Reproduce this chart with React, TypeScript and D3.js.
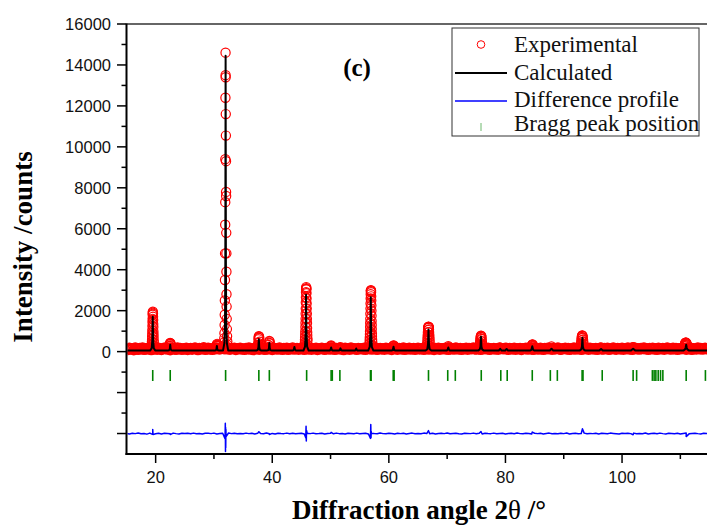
import React from "react";
import * as d3 from "d3";

// ---------- data ----------
const xTickValues = [20, 30, 40, 50, 60, 70, 80, 90, 100, 110];
const xTickLabels = ["20", "", "40", "", "60", "", "80", "", "100", ""];
const yTickValues = [-4000, -3000, -2000, -1000, 0, 1000, 2000, 3000, 4000, 5000, 6000, 7000, 8000, 9000, 10000, 11000, 12000, 13000, 14000, 15000, 16000];
const yTickLabels = ["", "", "", "", "0", "", "2000", "", "4000", "", "6000", "", "8000", "", "10000", "", "12000", "", "14000", "", "16000"];

const legendLabels = ["Experimental", "Calculated", "Difference profile", "Bragg peak position"];
const panelLabel = "(c)";

// experimental background points on the instrument grid (start 15°, step 0.25°)
const expGridStart = 15;
const expGridStep = 0.25;
const expGridCounts = [
  140,95,170,120,150,85,185,130,105,160,125,190,100,145,115,175,135,90,165,120,
  155,110,180,130,95,160,140,200,115,150,85,170,125,145,105,190,135,160,100,150,
  120,175,95,140,165,110,150,185,130,90,160,120,145,195,105,135,170,115,150,100,
  165,130,180,145,120,175,150,135,160,125,185,110,150,140,170,95,155,130,180,120,
  140,100,165,125,185,115,150,90,170,135,155,110,190,130,145,105,175,120,160,140,
  95,170,130,150,115,185,140,105,160,125,175,100,150,135,190,115,145,165,110,155,
  130,175,100,160,140,120,185,110,150,135,170,95,155,125,180,140,105,165,130,150,
  115,180,140,100,160,130,175,120,150,90,170,135,145,110,185,125,155,140,100,165,
  135,150,120,180,105,160,140,175,115,150,130,190,100,145,165,120,155,110,170,140,
  125,160,95,150,180,130,110,165,140,120,185,105,155,135,170,115,145,160,100,150,
  175,120,140,160,105,185,130,150,115,170,140,95,160,125,180,110,150,135,165,120,
  145,100,170,130,155,115,185,140,120,165,105,150,135,175,110,160,125,145,190,130,
  115,160,140,105,175,125,150,135,180,100,155,130,165,120,145,110,185,140,150,125,
  170,135,100,160,145,120,180,110,155,130,165,95,150,140,175,115,160,125,145,105,
  185,130,150,115,170,140,100,160,125,180,135,145,110,165,120,155,190,130,105,150,
  140,175,120,160,100,145,130,185,115,155,135,170,105,150,125,165,140,110,180,130,
  155,120,165,100,145,180,130,115,160,140,175,105,150,125,185,135,110,165,145,120,
  170,110,150,135,185,120,160,100,145,175,130,155,115,165,140,190,125,150,105,160,
  135,170,120,155,100,180,140,125,165,110,150,185,130,145,115,170,135,160,105,150,
  125,165,140,180,110,155,130,175,100,150,140,120,185,135,160,115,145,170,125,155,
  140,
];

// experimental points across the reflections
const expPeakTheta = [
  19.30,19.33,19.35,19.37,19.39,19.40,19.42,19.43,19.45,19.46,19.48,19.49,19.51,19.52,19.54,19.55,19.57,19.58,19.60,19.61,19.63,19.64,19.66,19.67,19.71,
  22.35,22.40,22.45,22.48,22.52,22.56,22.60,22.67,
  30.35,30.42,30.48,30.55,30.60,30.65,
  31.70,31.74,31.77,31.80,31.83,31.85,31.87,31.89,31.91,31.93,31.94,31.95,31.97,31.99,32.00,32.01,32.03,32.05,32.07,32.08,32.09,32.11,32.13,32.14,32.15,32.17,32.19,32.22,32.25,32.29,32.34,
  37.50,37.55,37.60,37.64,37.67,37.70,37.74,37.78,37.82,37.86,37.90,
  39.35,39.40,39.45,39.50,39.54,39.58,39.65,
  45.55,45.58,45.60,45.62,45.64,45.66,45.67,45.69,45.70,45.72,45.73,45.75,45.76,45.78,45.79,45.81,45.82,45.84,45.85,45.87,45.88,45.90,45.91,45.93,45.94,45.96,45.97,45.99,46.00,46.02,46.04,46.09,
  49.98,50.04,50.10,50.16,50.22,
  51.62,51.72,51.80,
  56.65,56.68,56.70,56.72,56.74,56.76,56.77,56.79,56.80,56.82,56.83,56.85,56.86,56.88,56.89,56.91,56.92,56.94,56.95,56.97,56.98,57.00,57.01,57.03,57.04,57.06,57.07,57.09,57.10,57.12,57.14,57.19,
  60.68,60.74,60.80,60.86,60.92,60.96,
  66.55,66.58,66.60,66.63,66.65,66.68,66.70,66.73,66.75,66.78,66.80,66.83,66.85,66.88,66.90,66.93,66.95,66.98,67.00,67.06,
  70.10,70.20,70.30,
  75.58,75.62,75.65,75.69,75.72,75.76,75.80,75.84,75.88,75.92,75.95,76.00,76.03,
  79.10,80.20,
  84.45,84.50,84.55,84.60,84.65,84.70,84.75,84.85,
  87.90,
  92.95,93.00,93.03,93.07,93.10,93.14,93.18,93.22,93.26,93.30,93.34,93.38,93.42,93.50,
  96.40,
  101.85,101.95,
  110.70,110.75,110.80,110.85,110.90,110.95,111.00,111.05,111.10,111.15,111.20,111.30,
];
const expPeakCounts = [
  220,300,380,500,600,750,900,1050,1250,1450,1600,1800,1900,1950,1850,1700,1550,1350,1200,1000,850,700,550,450,280,
  200,280,360,420,410,370,300,190,
  200,280,340,380,330,280,
  300,450,650,900,1300,1800,2500,3500,4800,6200,7300,9400,12400,14600,13500,13400,11600,10550,9300,7800,7600,5800,4800,3900,2800,2200,1600,1100,750,500,320,
  200,300,420,600,680,750,730,650,480,350,250,
  220,320,430,520,490,400,250,
  250,350,450,580,700,850,1000,1200,1400,1600,1850,2100,2400,2650,2900,3050,3150,3100,3050,2850,2600,2350,2100,1850,1600,1400,1150,950,800,650,550,330,
  200,260,300,260,190,
  180,220,170,
  250,350,450,580,700,850,1000,1200,1400,1600,1850,2100,2350,2600,2800,2950,3000,2980,2900,2700,2500,2250,2000,1750,1500,1300,1100,900,750,600,500,300,
  200,260,300,290,240,180,
  250,350,450,580,700,820,950,1050,1150,1200,1220,1210,1180,1080,950,820,700,580,450,260,
  200,260,200,
  250,350,450,550,650,720,780,770,720,620,500,360,280,
  190,180,
  220,270,320,340,350,320,270,190,
  250,350,450,550,650,720,780,790,760,680,580,480,380,230,
  180,
  200,210,
  220,270,320,380,420,440,440,430,400,350,300,200,
];

// calculated profile
const calcTheta = [
  15.0,
  19.05,19.32,19.43,19.50,19.57,19.68,19.95,
  22.05,22.32,22.43,22.50,22.57,22.68,22.95,
  30.10,30.32,30.43,30.50,30.57,30.68,30.90,
  31.55,31.78,31.90,31.95,32.00,32.05,32.10,32.22,32.45,
  37.25,37.52,37.63,37.70,37.77,37.88,38.15,
  39.05,39.32,39.43,39.50,39.57,39.68,39.95,
  43.50,43.70,43.80,43.90,44.10,
  45.35,45.62,45.73,45.80,45.87,45.98,46.25,
  49.80,50.00,50.10,50.20,50.40,
  51.45,51.60,51.70,51.80,51.95,
  54.15,54.30,54.40,54.50,54.65,
  56.45,56.72,56.83,56.90,56.97,57.08,57.35,
  60.45,60.68,60.80,60.92,61.15,
  66.30,66.60,66.72,66.80,66.88,67.00,67.30,
  69.90,70.08,70.20,70.32,70.50,
  75.30,75.60,75.72,75.80,75.88,76.00,76.30,
  78.85,79.10,79.35,
  79.95,80.20,80.45,
  84.20,84.45,84.60,84.75,85.00,
  87.60,87.90,88.20,
  92.70,93.00,93.12,93.20,93.28,93.40,93.70,
  96.10,96.40,96.70,
  101.50,101.90,102.30,
  110.50,110.80,110.92,111.00,111.08,111.20,111.50,
  115.0,
];
const calcCounts = [
  50,
  50,165,545,1700,545,165,50,
  50,70,135,330,135,70,50,
  50,66,120,280,120,66,50,
  50,400,1500,4400,14450,4400,1500,400,50,
  50,90,215,600,215,90,50,
  50,75,160,420,160,75,50,
  50,90,230,90,50,
  50,240,870,2780,870,240,50,
  50,95,200,95,50,
  50,85,160,85,50,
  50,80,150,80,50,
  50,230,830,2650,830,230,50,
  50,80,240,80,50,
  50,120,360,1080,360,120,50,
  50,90,200,90,50,
  50,110,250,730,250,110,50,
  50,140,50,
  50,130,50,
  50,90,260,90,50,
  50,140,50,
  50,110,250,680,250,110,50,
  50,130,50,
  50,140,50,
  50,110,200,340,200,110,50,
  50,
];

// difference profile (obs - calc), drawn with an offset
const diffOffset = -4000;
const diffGridStart = 15;
const diffGridStep = 0.5;
const diffGridValues = [
  10,-20,15,-5,25,-15,5,-30,20,0,-10,15,-25,10,5,-15,20,-5,-20,10,
  0,15,-10,20,-15,5,-25,10,15,-5,20,-20,0,10,-10,25,-5,15,-15,5,
  -10,20,-5,15,-20,10,0,-15,25,-10,5,-25,15,0,-5,20,-15,10,-10,5,
  15,-20,10,-5,20,-10,0,15,-25,5,10,-15,20,-5,0,-20,15,5,-10,20,
  -15,5,10,-20,15,0,-10,25,-5,-15,10,5,-20,15,-5,10,-25,0,20,-10,
  5,-15,20,0,-10,15,-20,5,10,-5,25,-15,0,10,-10,-20,15,5,-5,20,
  -10,10,-25,15,0,-5,20,-15,5,10,-20,0,15,-10,25,-5,-15,10,0,-20,
  15,-5,10,-20,5,20,-10,0,-15,15,-5,25,-20,5,10,-10,0,20,-15,5,
  -5,15,-20,10,0,-15,20,5,-10,-25,15,0,10,-5,20,-15,5,-10,25,-20,
  0,10,-15,20,-5,-20,15,5,-10,10,-25,0,20,-15,5,15,-5,-20,10,0,
  -10,
];
const diffSpikeTheta = [19.45,19.50,19.55,22.50,31.90,31.95,31.98,32.00,32.02,32.05,32.08,37.70,39.50,45.75,45.80,45.84,45.88,50.10,56.85,56.90,56.94,56.98,66.80,75.80,84.60,93.20,101.90,111.00];
const diffSpikeValues = [-40,200,-50,-50,-250,500,-880,300,-700,200,-150,90,-50,-200,360,-370,150,60,-240,440,-200,100,140,100,70,230,-60,-150];

// Bragg reflection positions
const braggTheta = [19.5,22.5,32.0,37.7,39.5,45.9,50.1,50.3,51.6,56.85,56.95,60.75,60.9,66.8,70.1,71.4,75.85,79.2,80.3,84.6,87.7,88.9,93.15,93.3,96.6,101.9,102.5,105.2,105.5,105.8,106.2,106.6,107.0,111.0,114.3];
const braggTickTop = -900;
const braggTickBottom = -1430;

// ---------- chart ----------
const W = 707;
const H = 530;
const plotLeft = 126.5;
const plotTop = 24;
const plotBottom = 454;

export default function App() {
  const x = d3.scaleLinear().domain([15, 115]).range([plotLeft, 709.5]);
  const y = d3.scaleLinear().domain([-5000, 16000]).range([plotBottom, plotTop]);

  const expGrid = expGridCounts.map((c, i) => [expGridStart + i * expGridStep, c]);
  const expPeaks = expPeakTheta.map((t, i) => [t, expPeakCounts[i]]);

  const calcPts = calcTheta.map((t, i) => [t, calcCounts[i]]);
  const diffPts = [
    ...diffGridValues.map((v, i) => [diffGridStart + i * diffGridStep, v]),
    ...diffSpikeTheta.map((t, i) => [t, diffSpikeValues[i]]),
  ].sort((a, b) => a[0] - b[0]);

  const line = d3
    .line<number[]>()
    .x((d) => x(d[0]))
    .y((d) => y(d[1]));
  const diffLine = d3
    .line<number[]>()
    .x((d) => x(d[0]))
    .y((d) => y(d[1] + diffOffset));

  const sans = "'Liberation Sans', Arial, sans-serif";
  const serif = "'Liberation Serif', 'Times New Roman', serif";

  const legendX = 452;
  const legendRows = [52, 80, 107, 131];

  return (
    <svg width={W} height={H} style={{ display: "block", position: "absolute", left: 0, top: 0, background: "#fff" }}>
      <defs>
        <clipPath id="plotClip">
          <rect x={plotLeft + 1} y={plotTop} width={W - plotLeft} height={plotBottom - plotTop - 1} />
        </clipPath>
      </defs>

      <g clipPath="url(#plotClip)">
        {expGrid.map((d, i) => (
          <circle key={"g" + i} cx={x(d[0])} cy={y(d[1])} r={4.6} fill="none" stroke="#ff0000" strokeWidth={1.9} />
        ))}
        {expPeaks.map((d, i) => (
          <circle key={"p" + i} cx={x(d[0])} cy={y(d[1])} r={4.6} fill="none" stroke="#ff0000" strokeWidth={1.2} />
        ))}
        <path d={line(calcPts) || ""} fill="none" stroke="#000" strokeWidth={2} strokeLinejoin="round" />
        {braggTheta.map((t, i) => (
          <line key={i} x1={x(t)} x2={x(t)} y1={y(braggTickTop)} y2={y(braggTickBottom)} stroke="#008000" strokeWidth={1.6} />
        ))}
        <path d={diffLine(diffPts) || ""} fill="none" stroke="#0000ff" strokeWidth={1.5} strokeLinejoin="round" />
      </g>

      {/* axes */}
      <line x1={plotLeft} x2={W} y1={plotTop} y2={plotTop} stroke="#333" strokeWidth={1.5} />
      <line x1={plotLeft} x2={plotLeft} y1={plotTop - 0.5} y2={plotBottom + 1} stroke="#000" strokeWidth={2} />
      <line x1={plotLeft - 1} x2={W} y1={plotBottom} y2={plotBottom} stroke="#000" strokeWidth={2} />

      {yTickValues.map((v, i) => {
        const major = v % 2000 === 0;
        return (
          <g key={i}>
            <line x1={plotLeft - (major ? 9.5 : 5)} x2={plotLeft} y1={y(v)} y2={y(v)} stroke="#000" strokeWidth={1.5} />
            {yTickLabels[i] && (
              <text x={111} y={y(v)} dy="0.36em" textAnchor="end" fontFamily={sans} fontSize={16.5} fill="#111">
                {yTickLabels[i]}
              </text>
            )}
          </g>
        );
      })}

      {xTickValues.map((v, i) => {
        const major = xTickLabels[i] !== "";
        return (
          <g key={i}>
            <line x1={x(v)} x2={x(v)} y1={plotBottom} y2={plotBottom + (major ? 9 : 5)} stroke="#000" strokeWidth={1.5} />
            {major && (
              <text x={x(v)} y={483} textAnchor="middle" fontFamily={sans} fontSize={16.5} fill="#111">
                {xTickLabels[i]}
              </text>
            )}
          </g>
        );
      })}

      {/* axis titles */}
      <text transform="translate(32,247) rotate(-90)" textAnchor="middle" fontFamily={serif} fontWeight="bold" fontSize={27} fill="#000">
        Intensity /counts
      </text>
      <text x={419} y={519} textAnchor="middle" fontFamily={serif} fontWeight="bold" fontSize={27} fill="#000">
        Diffraction angle 2<tspan fontWeight="normal">θ</tspan> /°
      </text>

      {/* panel label */}
      <text x={357} y={76} textAnchor="middle" fontFamily={serif} fontWeight="bold" fontSize={25} fill="#000">
        {panelLabel}
      </text>

      {/* legend */}
      <rect x={legendX} y={28} width={247} height={108} fill="#fff" stroke="#333" strokeWidth={1} />
      <circle cx={481} cy={legendRows[0] - 7.5} r={3.8} fill="none" stroke="#ff0000" strokeWidth={1} />
      <line x1={455} x2={507} y1={legendRows[1] - 7} y2={legendRows[1] - 7} stroke="#000" strokeWidth={2} />
      <line x1={455} x2={507} y1={legendRows[2] - 6} y2={legendRows[2] - 6} stroke="#0000ff" strokeWidth={1.5} />
      <line x1={481} x2={481} y1={legendRows[3] - 8} y2={legendRows[3]} stroke="#6cb86c" strokeWidth={1} />
      {legendLabels.map((s, i) => (
        <text key={i} x={514} y={legendRows[i]} fontFamily={serif} fontSize={23} fill="#111">
          {s}
        </text>
      ))}
    </svg>
  );
}
